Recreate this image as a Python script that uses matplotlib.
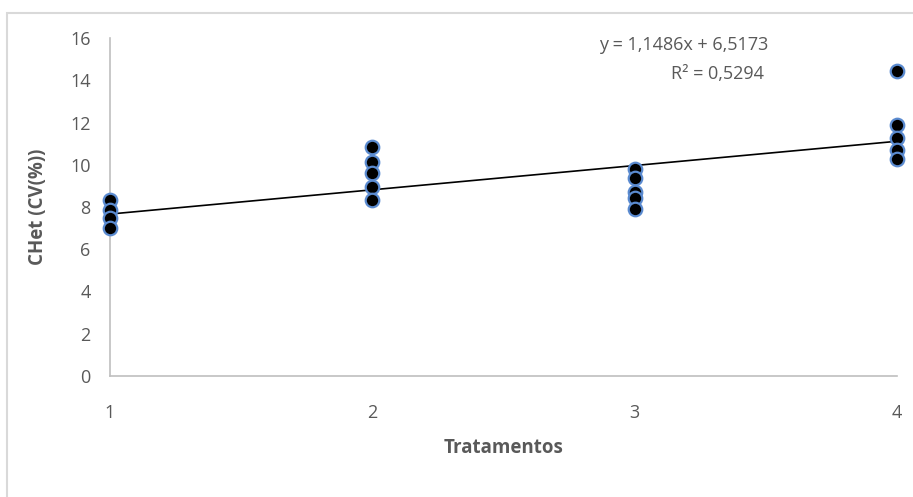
import numpy as np
import matplotlib.pyplot as plt
from matplotlib.patches import Rectangle

# valores
trat = [1, 1, 1, 1,
        2, 2, 2, 2, 2,
        3, 3, 3, 3, 3,
        4, 4, 4, 4, 4]
chet = [8.33, 7.86, 7.48, 7.0,
        10.85, 10.14, 9.62, 8.96, 8.33,
        9.78, 9.36, 8.72, 8.41, 7.89,
        14.45, 11.88, 11.25, 10.70, 10.26]

# linha de tendencia (equacao do grafico)
slope = 1.1486
intercept = 6.5173
r2 = 0.5294

plt.rcParams['font.family'] = ['Open Sans', 'DejaVu Sans']
grey = '#595959'

fig = plt.figure(figsize=(9.13, 4.97), dpi=100)
ax = fig.add_axes([0.1205, 0.2435, 0.862, 0.68])

xl = np.array([1, 4])
ax.plot(xl, slope * xl + intercept, color='black', lw=1.2, zorder=2)
ax.scatter(trat, chet, s=95, c='black', edgecolors='#5B8BD0', linewidths=1.6,
           zorder=3, clip_on=False)

ax.set_xlim(1, 4)
ax.set_ylim(0, 16)
ax.set_xticks([1, 2, 3, 4])
ax.set_yticks(range(0, 17, 2))
ax.tick_params(length=0, labelsize=13, colors=grey)
ax.tick_params(axis='y', pad=14)
ax.tick_params(axis='x', pad=20)
for s in ['top', 'right']:
    ax.spines[s].set_visible(False)
for s in ['left', 'bottom']:
    ax.spines[s].set_color('#BFBFBF')
    ax.spines[s].set_linewidth(1.2)

ax.set_xlabel('Tratamentos', fontsize=13.5, fontweight='bold', color=grey, labelpad=12)
ax.set_ylabel('CHet (CV(%))', fontsize=13.5, fontweight='bold', color=grey, labelpad=16)

fig.text(768 / 913, 1 - 45 / 497, 'y = 1,1486x + 6,5173', ha='right', va='center',
         fontsize=13, color=grey)
fig.text(764 / 913, 1 - 74 / 497, 'R² = 0,5294', ha='right', va='center',
         fontsize=13, color=grey)

fig.patches.append(Rectangle((7 / 913, -0.1), 1.2, 1 - 13 / 497 + 0.1,
                             transform=fig.transFigure, fill=False,
                             edgecolor='#D9D9D9', lw=1.5))

fig.savefig('out.png', dpi=100)
